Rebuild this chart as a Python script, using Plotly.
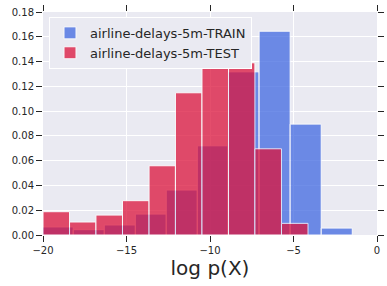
import plotly.graph_objects as go

# Histogram bin edges (log p(X)) and normalized densities
train_edges = [-20.04, -18.19, -16.33, -14.47, -12.62, -10.76, -8.92, -7.06, -5.20, -3.34, -1.48]
train_density = [0.0065, 0.0043, 0.0081, 0.0169, 0.0363, 0.0720, 0.1317, 0.1645, 0.0895, 0.0056]
test_edges = [-20.00, -18.41, -16.83, -15.24, -13.65, -12.07, -10.48, -8.89, -7.31, -5.72, -4.13]
test_density = [0.0188, 0.0105, 0.0161, 0.0277, 0.0559, 0.1148, 0.1398, 0.1390, 0.0696, 0.0094]
series_names = ["airline-delays-5m-TRAIN", "airline-delays-5m-TEST"]
x_ticks = [-20, -15, -10, -5, 0]
y_ticks = [0.00, 0.02, 0.04, 0.06, 0.08, 0.10, 0.12, 0.14, 0.16, 0.18]


def centers_widths(edges):
    c = [(a + b) / 2 for a, b in zip(edges[:-1], edges[1:])]
    w = [b - a for a, b in zip(edges[:-1], edges[1:])]
    return c, w


fig = go.Figure()
for edges, dens, name, color in [
    (train_edges, train_density, series_names[0], "#4169E1"),
    (test_edges, test_density, series_names[1], "#DC143C"),
]:
    c, w = centers_widths(edges)
    fig.add_trace(go.Bar(
        x=c, y=dens, width=w, name=name,
        marker=dict(color=color, line=dict(color="white", width=1)),
        opacity=0.75,
    ))

tick_font = dict(family="DejaVu Sans", size=10, color="#262626")
fig.update_layout(
    width=387, height=286,
    margin=dict(l=43, r=10, t=12, b=51),
    barmode="overlay",
    paper_bgcolor="white",
    plot_bgcolor="#EAEAF2",
    font=dict(family="DejaVu Sans", color="#262626"),
    legend=dict(
        x=0.018, y=0.978, xanchor="left", yanchor="top",
        bgcolor="#EAEAF2", bordercolor="white", borderwidth=1,
        font=dict(family="DejaVu Sans", size=13, color="#262626"),
        itemwidth=30, tracegroupgap=0,
    ),
    xaxis=dict(
        range=[-20, 0], tickvals=x_ticks, ticks="outside", ticklen=6, tickwidth=1,
        tickcolor="#262626", mirror="ticks", showline=False, gridcolor="white",
        gridwidth=1.2, zeroline=False, tickfont=tick_font, automargin=False,
        title=dict(text="log p(X)", font=dict(family="DejaVu Sans", size=20, color="#262626"), standoff=4),
    ),
    yaxis=dict(
        range=[0, 0.18], tickvals=y_ticks, tickformat=".2f", ticks="outside", ticklen=6,
        tickwidth=1, tickcolor="#262626", mirror="ticks", showline=False,
        gridcolor="white", gridwidth=1.2, zeroline=False, tickfont=tick_font,
        automargin=False,
    ),
)

fig.write_html("out.html", config={"displayModeBar": False},
               post_script="document.body.style.margin='0';")
